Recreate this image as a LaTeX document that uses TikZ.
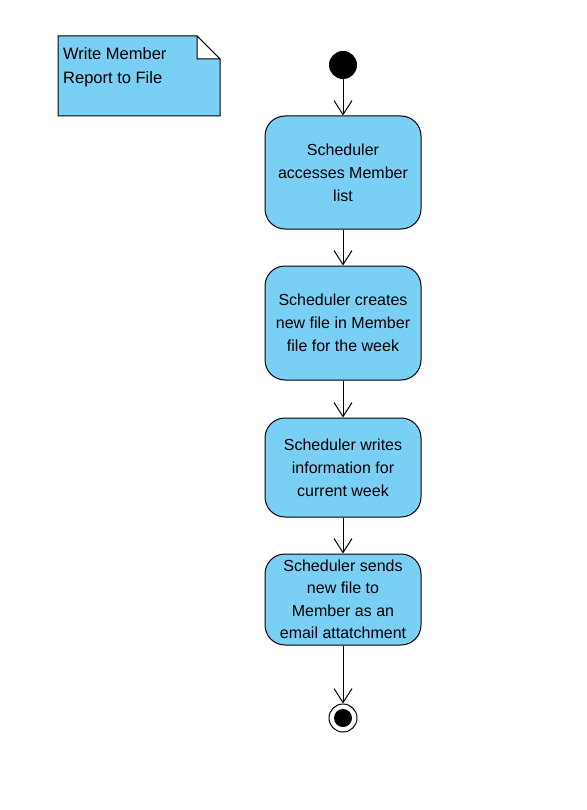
\documentclass[tikz,border=0pt]{standalone}
\usepackage{fontspec}
\setmainfont{Liberation Sans}
\usetikzlibrary{arrows.meta}
\definecolor{actblue}{RGB}{122,207,245}
\tikzset{
  action/.style={draw=black,fill=actblue,line width=1pt,rounded corners=20pt,
    minimum width=156pt,align=center,font=\fontsize{16}{23}\selectfont},
  flow/.style={line width=1pt,-{Straight Barb[length=14pt,width=18pt,line width=1pt]}}
}
\begin{document}
\begin{tikzpicture}[x=1pt,y=-1pt]
        % canvas
        \useasboundingbox (0,0) rectangle (586,810);

        % note with folded corner
        \filldraw[fill=actblue,draw=black,line width=1pt] (58,36) -- (197,36) -- (220,59) -- (220,116) -- (58,116) -- cycle;
        \draw[line width=1pt,fill=white] (197,36) -- (197,59) -- (220,59) -- cycle;
        \node[anchor=north west,align=left,inner sep=0pt,font=\fontsize{16.5}{24}\selectfont] (note) at (63,47) {Write Member\\Report to File};

        % start and end
        \node[circle,fill=black,minimum size=28pt,inner sep=0pt] (start) at (343,65) {};
        \node[circle,draw=black,line width=1pt,fill=white,minimum size=28pt,inner sep=0pt] (stop) at (343,718) {};
        \node[circle,fill=black,minimum size=18pt,inner sep=0pt] (stopdot) at (343,718) {};

        % actions
        \node[action,minimum height=113pt] (access) at (343,172.5) {Scheduler\\accesses Member\\list};
        \node[action,minimum height=114pt] (create) at (343,323) {Scheduler creates\\new file in Member\\file for the week};
        \node[action,minimum height=99pt] (write) at (343,467.5) {Scheduler writes\\information for\\current week};
        \node[action,minimum height=91pt,font=\fontsize{16}{22.5}\selectfont] (send) at (343,599.5) {Scheduler sends\\new file to\\Member as an\\email attatchment};

        % flow
        \draw[flow] (start) -- (access);
        \draw[flow] (access) -- (create);
        \draw[flow] (create) -- (write);
        \draw[flow] (write) -- (send);
        \draw[flow] (send) -- (stop);
\end{tikzpicture}
\end{document}
